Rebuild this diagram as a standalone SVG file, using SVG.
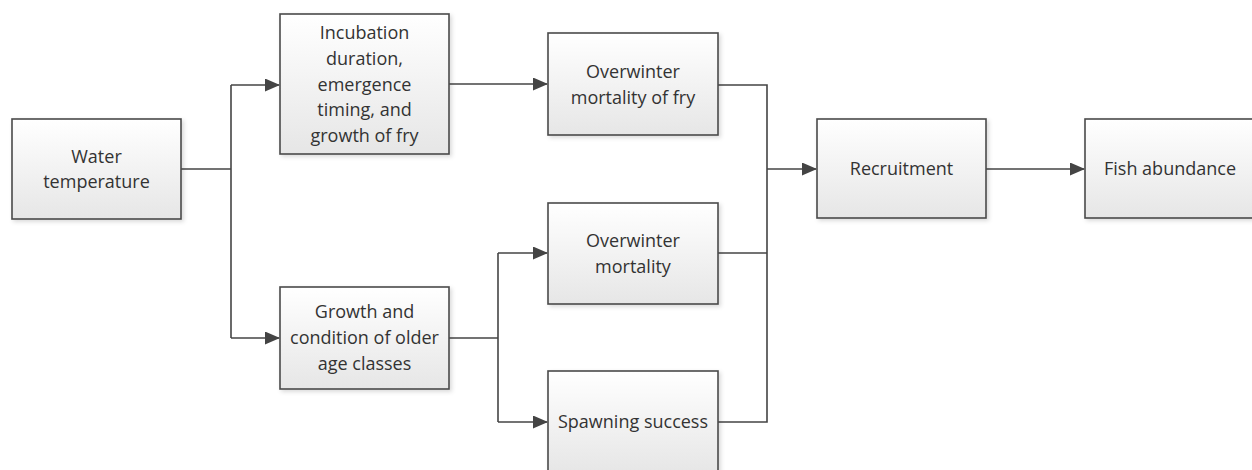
<svg xmlns="http://www.w3.org/2000/svg" width="1252" height="470" viewBox="0 0 1252 470">
<style>
.box{fill:url(#g);stroke:#4a4a4a;stroke-width:1.6;filter:url(#sh)}
.t{font-family:"Open Sans","Liberation Sans",sans-serif;font-size:18px;fill:#333;text-anchor:middle}
.c{fill:none;stroke:#444;stroke-width:1.6}
</style>
<defs>
<linearGradient id="g" x1="0" y1="0" x2="0" y2="1">
<stop offset="0" stop-color="#ffffff"/>
<stop offset="1" stop-color="#e6e6e6"/>
</linearGradient>
<filter id="sh" x="-10%" y="-10%" width="130%" height="130%">
<feDropShadow dx="2" dy="2" stdDeviation="2" flood-color="#000" flood-opacity="0.15"/>
</filter>
<marker id="a" markerWidth="15" markerHeight="13" refX="14" refY="6.5" orient="auto" markerUnits="userSpaceOnUse">
<path d="M0,0 L15,6.5 L0,13 Z" fill="#444"/>
</marker>
</defs>
<rect width="1252" height="470" fill="#fff"/>
<g id="connectors">
<path class="c" d="M181,169 H231"/>
<path class="c" d="M231,85 V338"/>
<path class="c" d="M231,85 H279" marker-end="url(#a)"/>
<path class="c" d="M231,338 H279" marker-end="url(#a)"/>
<path class="c" d="M449,84 H547" marker-end="url(#a)"/>
<path class="c" d="M449,338 H498"/>
<path class="c" d="M498,253 V422"/>
<path class="c" d="M498,253 H547" marker-end="url(#a)"/>
<path class="c" d="M498,422 H547" marker-end="url(#a)"/>
<path class="c" d="M718,85 H767 V422 H718"/>
<path class="c" d="M718,253 H767"/>
<path class="c" d="M767,169 H816" marker-end="url(#a)"/>
<path class="c" d="M986,169 H1084" marker-end="url(#a)"/>
</g>
<g id="water">
<rect class="box" x="12" y="119" width="169" height="100"/>
<text class="t" x="96.5" y="163">Water</text>
<text class="t" x="96.5" y="188">temperature</text>
</g>
<g id="incubation">
<rect class="box" x="280" y="14" width="169" height="140"/>
<text class="t" x="364.5" y="39">Incubation</text>
<text class="t" x="364.5" y="65">duration,</text>
<text class="t" x="364.5" y="91">emergence</text>
<text class="t" x="364.5" y="116">timing, and</text>
<text class="t" x="364.5" y="142">growth of fry</text>
</g>
<g id="growth">
<rect class="box" x="280" y="287" width="169" height="102"/>
<text class="t" x="364.5" y="318">Growth and</text>
<text class="t" x="364.5" y="344">condition of older</text>
<text class="t" x="364.5" y="370">age classes</text>
</g>
<g id="owfry">
<rect class="box" x="548" y="33" width="170" height="102"/>
<text class="t" x="633" y="78">Overwinter</text>
<text class="t" x="633" y="104">mortality of fry</text>
</g>
<g id="owmort">
<rect class="box" x="548" y="203" width="170" height="101"/>
<text class="t" x="633" y="247">Overwinter</text>
<text class="t" x="633" y="273">mortality</text>
</g>
<g id="spawn">
<rect class="box" x="548" y="371" width="170" height="102"/>
<text class="t" x="633" y="428">Spawning success</text>
</g>
<g id="recruit">
<rect class="box" x="817" y="119" width="169" height="99"/>
<text class="t" x="901.5" y="175">Recruitment</text>
</g>
<g id="fish">
<rect class="box" x="1085" y="119" width="170" height="99"/>
<text class="t" x="1170" y="175">Fish abundance</text>
</g>
</svg>
